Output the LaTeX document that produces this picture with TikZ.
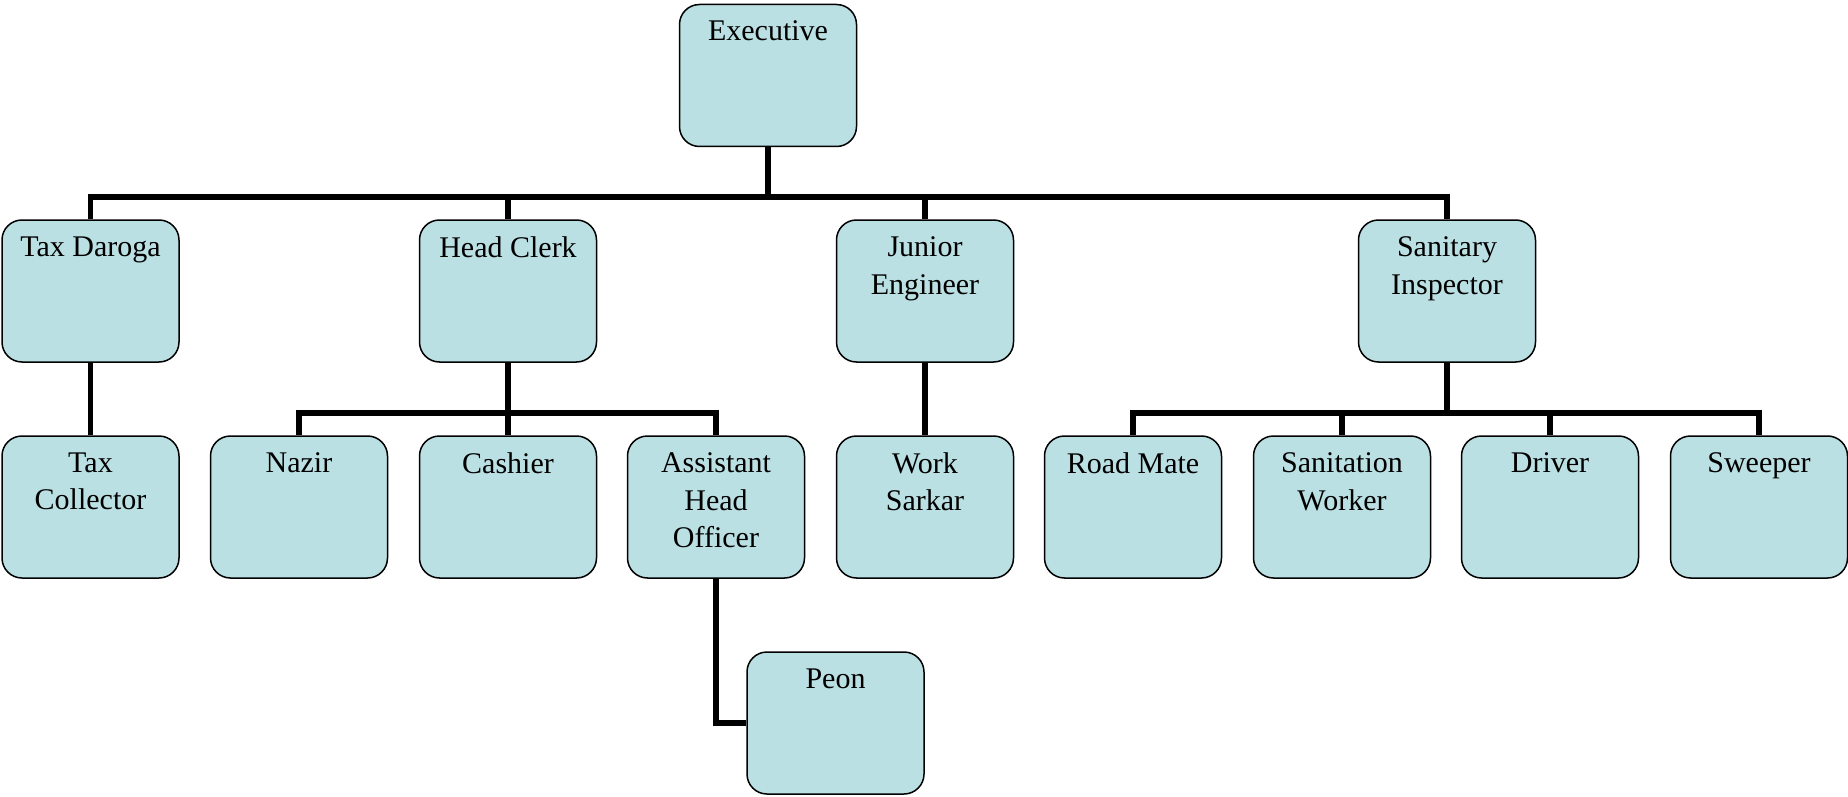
\documentclass[tikz,border=0pt]{standalone}
\usepackage{fontspec}
\setmainfont{Liberation Serif}
\newfontfamily\boxfont{Liberation Serif}
\definecolor{boxfill}{RGB}{187,224,227}
\tikzset{
  orgbox/.style={draw=black, line width=1.5pt, rounded corners=20pt, fill=boxfill,
    minimum width=177pt, minimum height=142pt, inner sep=0pt,
    label={[anchor=north, inner sep=0pt, yshift=-17pt, align=center,
            font=\boxfont\fontsize{30pt}{37.7pt}\selectfont]north:#1}},
  conn/.style={draw=black, line width=5.5pt}
}
\begin{document}
\begin{tikzpicture}[x=1pt, y=-1pt]
\useasboundingbox (0,0) rectangle (1848,797);

% top level
\node[orgbox={Executive}] (exec) at (768,75.5) {};

% second level
\node[orgbox={Tax Daroga}] (taxd) at (90.5,291) {};
\node[orgbox={Head Clerk}] (head) at (508,291) {};
\node[orgbox={Junior\\Engineer}] (jeng) at (925,291) {};
\node[orgbox={Sanitary\\Inspector}] (sani) at (1447,291) {};

% third level
\node[orgbox={Tax\\Collector}] (taxc) at (90.5,507) {};
\node[orgbox={Nazir}] (nazir) at (299,507) {};
\node[orgbox={Cashier}] (cash) at (508,507) {};
\node[orgbox={Assistant\\Head\\Officer}] (asst) at (716,507) {};
\node[orgbox={Work\\Sarkar}] (work) at (925,507) {};
\node[orgbox={Road Mate}] (road) at (1133,507) {};
\node[orgbox={Sanitation\\Worker}] (sanw) at (1342,507) {};
\node[orgbox={Driver}] (driver) at (1550,507) {};
\node[orgbox={Sweeper}] (sweep) at (1759,507) {};

% fourth level
\node[orgbox={Peon}] (peon) at (835.5,723) {};

% bus lines
\coordinate (busA) at (0,197);
\coordinate (busB) at (0,413);

% executive to second level
\draw[conn] (exec.south) -- (exec.south |- busA) -| (taxd.north);
\draw[conn] (exec.south |- busA) -| (head.north);
\draw[conn] (exec.south |- busA) -| (jeng.north);
\draw[conn] (exec.south |- busA) -| (sani.north);

% single children
\draw[conn] (taxd.south) -- (taxc.north);
\draw[conn] (jeng.south) -- (work.north);

% head clerk group
\draw[conn] (head.south) -- (head.south |- busB) -| (nazir.north);
\draw[conn] (head.south |- busB) -- (cash.north);
\draw[conn] (head.south |- busB) -| (asst.north);

% sanitary inspector group
\draw[conn] (sani.south) -- (sani.south |- busB) -| (road.north);
\draw[conn] (sani.south |- busB) -| (sanw.north);
\draw[conn] (sani.south |- busB) -| (driver.north);
\draw[conn] (sani.south |- busB) -| (sweep.north);

% assistant head officer to peon
\draw[conn] (asst.south) |- (peon.west);
\end{tikzpicture}
\end{document}
